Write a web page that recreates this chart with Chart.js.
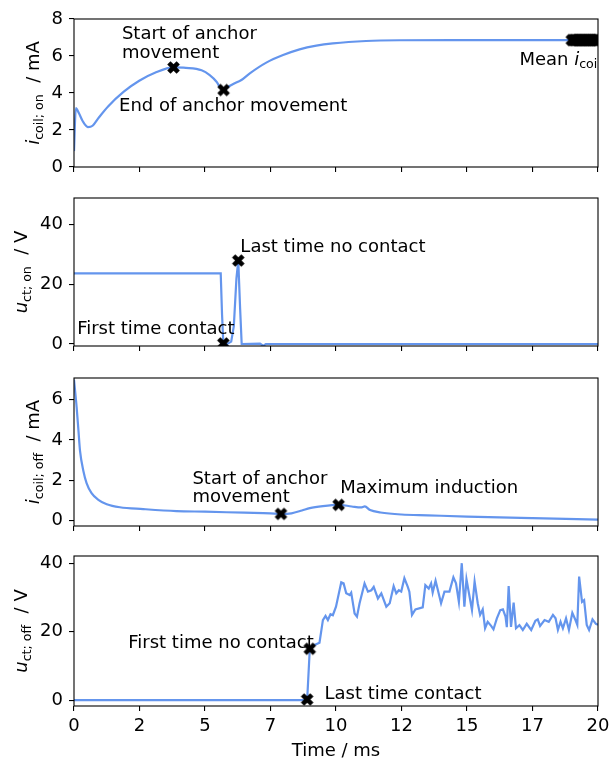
<!DOCTYPE html>
<html>
<head>
<meta charset="utf-8">
<script src="https://cdn.jsdelivr.net/npm/chart.js@4.4.1/dist/chart.umd.min.js"></script>
<style>
  html, body { margin: 0; padding: 0; background: #fff; }
  #wrap { position: relative; width: 609px; height: 759px; }
  canvas { position: absolute; left: 0; }
</style>
</head>
<body>
<div id="wrap">
  <canvas id="c1" width="609" height="180" style="top:0px"></canvas>
  <canvas id="c2" width="609" height="180" style="top:180px"></canvas>
  <canvas id="c3" width="609" height="180" style="top:360px"></canvas>
  <canvas id="c4" width="609" height="219" style="top:540px"></canvas>
</div>
<script>
// === DATA ===
let timeTicks = [0, 2.5, 5, 7.5, 10, 12.5, 15, 17.5, 20];
let timeTickLabels = ["0", "2", "5", "7", "10", "12", "15", "17", "20"];

// coil current, switching on
let iOnTime = [0, 0.07, 0.19, 0.34, 0.53, 0.71, 0.93, 1.3, 1.9, 2.49, 3.09, 3.8, 4.27, 4.87, 5.18, 5.44, 5.56, 5.71, 5.85, 6.01, 6.26, 6.39, 6.71, 7.34, 7.98, 8.61, 9.25, 9.88, 11.15, 12.42, 15, 20];
let iOnValue = [0.86, 3.18, 2.9, 2.46, 2.16, 2.23, 2.64, 3.27, 4.07, 4.66, 5.09, 5.38, 5.36, 5.23, 4.97, 4.61, 4.34, 4.16, 4.3, 4.43, 4.61, 4.7, 5.06, 5.64, 6.05, 6.36, 6.56, 6.68, 6.81, 6.85, 6.86, 6.86];
let iOnMarkTime = [3.8, 5.71];
let iOnMarkValue = [5.38, 4.16];
let iOnMeanTime = [19.0, 19.05, 19.1, 19.15, 19.2, 19.25, 19.3, 19.35, 19.4, 19.45, 19.5, 19.55, 19.6, 19.65, 19.7, 19.75, 19.8, 19.85, 19.9, 19.95, 20.0];
let iOnMeanValue = 6.86;
let iOnTicks = [0, 2, 4, 6, 8];

// contact voltage, switching on
let uOnTime = [0, 5.6, 5.65, 5.7, 5.78, 6.0, 6.1, 6.2, 6.27, 6.34, 6.4, 7.1, 7.22, 7.32, 20];
let uOnValue = [23.7, 23.7, 10, 0.2, -0.3, 0.8, 6, 22, 28, 12, 0, 0.1, -0.6, 0, 0];
let uOnMarkTime = [5.7, 6.27];
let uOnMarkValue = [0.2, 28];
let uOnTicks = [0, 20, 40];

// coil current, switching off
let iOffTime = [0, 0.1, 0.17, 0.23, 0.36, 0.48, 0.67, 0.93, 1.25, 1.75, 2.64, 3.91, 5, 6.5, 7.5, 7.9, 8.3, 8.7, 9.0, 9.5, 10.1, 10.6, 10.95, 11.1, 11.3, 11.7, 12.5, 13.5, 15, 17.5, 20];
let iOffValue = [7.0, 5.64, 4.47, 3.46, 2.45, 1.86, 1.36, 1.03, 0.81, 0.66, 0.57, 0.47, 0.44, 0.39, 0.36, 0.33, 0.36, 0.5, 0.62, 0.72, 0.78, 0.7, 0.65, 0.7, 0.52, 0.4, 0.3, 0.26, 0.2, 0.12, 0.05];
let iOffMarkTime = [7.9, 10.1];
let iOffMarkValue = [0.33, 0.78];
let iOffTicks = [0, 2, 4, 6];

// contact voltage, switching off
let uOffTime = [0, 8.88, 8.9, 9.0, 9.03, 9.18, 9.37, 9.5, 9.6, 9.69, 9.79, 9.88, 10.0, 10.2, 10.29, 10.39, 10.52, 10.58, 10.71, 10.8, 10.9, 11.09, 11.22, 11.35, 11.44, 11.6, 11.73, 11.92, 12.05, 12.2, 12.3, 12.4, 12.49, 12.61, 12.74, 12.8, 12.9, 13.03, 13.31, 13.41, 13.54, 13.63, 13.69, 13.8, 13.89, 14.01, 14.14, 14.33, 14.48, 14.58, 14.69, 14.8, 14.9, 14.98, 15.08, 15.19, 15.29, 15.41, 15.5, 15.6, 15.69, 15.79, 15.92, 16.01, 16.14, 16.27, 16.37, 16.47, 16.52, 16.59, 16.68, 16.78, 16.87, 17.0, 17.13, 17.28, 17.45, 17.61, 17.7, 17.79, 17.96, 18.12, 18.28, 18.38, 18.47, 18.57, 18.66, 18.78, 18.89, 19.02, 19.14, 19.21, 19.28, 19.39, 19.47, 19.57, 19.66, 19.79, 19.92, 20];
let uOffValue = [0, 0, 0.2, 15, 15.3, 16.1, 16.8, 23.4, 24.6, 23.4, 25.1, 24.8, 27.3, 34.4, 34.1, 31.2, 30.7, 31.4, 25.3, 24.4, 28.3, 34.1, 31.7, 32.1, 33.1, 29.7, 31.2, 27.3, 28.3, 33.3, 31.2, 32.1, 31.7, 35.6, 33.1, 31.7, 24.9, 26.5, 27.1, 33.6, 32.6, 34.1, 31.4, 34.9, 32.1, 28.3, 31.7, 31.7, 35.9, 34.1, 28.7, 40, 27.3, 35.3, 31.0, 26.3, 34.6, 28.3, 24.9, 26.5, 21.0, 22.9, 21.7, 20.7, 23.9, 26.3, 26.5, 24.4, 21.3, 33.3, 21.4, 28.5, 21.0, 21.9, 20.5, 22.3, 20.5, 23.2, 23.6, 21.7, 23.4, 22.9, 24.9, 23.9, 20.5, 22.9, 21.0, 23.9, 20.5, 25.5, 23.4, 22.0, 36.1, 28.7, 29.2, 22.0, 20.5, 23.6, 22.3, 22.0];
let uOffMarkTime = [8.9, 9.0];
let uOffMarkValue = [0.2, 15];
let uOffTicks = [0, 20, 40];

// === STYLE ===
const FONT = '"DejaVu Sans", sans-serif';
const FS = 18;
const LINE_COLOR = "#6495ED";

// filled "X" marker like matplotlib
function makeXMarker() {
  let c = document.createElement("canvas");
  c.width = 15; c.height = 15;
  let g = c.getContext("2d");
  let r = 6.6, w = 2.3;
  let pts = [[-w, -r], [w, -r], [w, -w], [r, -w], [r, w], [w, w], [w, r], [-w, r], [-w, w], [-r, w], [-r, -w], [-w, -w]];
  let a = Math.PI / 4;
  g.beginPath();
  pts.forEach((p, i) => {
    let x = 7.5 + p[0] * Math.cos(a) - p[1] * Math.sin(a);
    let y = 7.5 + p[0] * Math.sin(a) + p[1] * Math.cos(a);
    if (i === 0) g.moveTo(x, y); else g.lineTo(x, y);
  });
  g.closePath();
  g.fillStyle = "#000";
  g.fill();
  return c;
}
let xMarker = makeXMarker();

function toPoints(ts, vs) {
  return ts.map((t, i) => ({ x: t, y: vs[i] }));
}

// draw text made of parts (italic / subscript)
function richWidth(ctx, parts, size) {
  let w = 0;
  parts.forEach(p => {
    ctx.font = (p.italic ? "italic " : "") + (p.sub ? size * 0.7 : size) + "px " + FONT;
    w += ctx.measureText(p.text).width;
  });
  return w;
}
function drawRich(ctx, x, y, parts, size) {
  parts.forEach(p => {
    ctx.font = (p.italic ? "italic " : "") + (p.sub ? size * 0.7 : size) + "px " + FONT;
    ctx.fillText(p.text, x, y + (p.sub ? size * 0.22 : 0));
    x += ctx.measureText(p.text).width;
  });
}

// === PANEL ===
function makePanel(id, cfg) {
  let datasets = [
    {
      data: cfg.marks,
      showLine: false,
      pointStyle: xMarker,
      pointRadius: 7,
      clip: 0,
      order: 0
    },
    {
      data: cfg.line,
      borderColor: LINE_COLOR,
      borderWidth: 2.2,
      pointRadius: 0,
      tension: 0,
      cubicInterpolationMode: cfg.smooth ? "monotone" : "default",
      fill: false,
      order: 1
    }
  ];

  let deco = {
    id: "deco",
    afterDraw(chart) {
      let ctx = chart.ctx, a = chart.chartArea;
      let xs = chart.scales.x, ys = chart.scales.y;
      ctx.save();

      // frame (all four spines)
      ctx.strokeStyle = "#000";
      ctx.lineWidth = 1.1;
      ctx.strokeRect(a.left, a.top, a.right - a.left, a.bottom - a.top);

      // annotations, clipped to the axes
      ctx.save();
      ctx.beginPath();
      ctx.rect(a.left, a.top, a.right - a.left, a.bottom - a.top);
      ctx.clip();
      ctx.fillStyle = "#000";
      ctx.textBaseline = "alphabetic";
      ctx.textAlign = "left";
      cfg.notes.forEach(n => {
        drawRich(ctx, xs.getPixelForValue(n.t), ys.getPixelForValue(n.v), n.parts, FS);
      });
      ctx.restore();

      // y axis label, rotated
      ctx.fillStyle = "#000";
      ctx.textAlign = "left";
      let w = richWidth(ctx, cfg.ylabel, FS);
      ctx.translate(cfg.ylabelX, (a.top + a.bottom) / 2);
      ctx.rotate(-Math.PI / 2);
      drawRich(ctx, -w / 2, 0, cfg.ylabel, FS);
      ctx.restore();

      // x axis title on the last panel
      if (cfg.xtitle) {
        ctx.save();
        ctx.fillStyle = "#000";
        ctx.font = FS + "px " + FONT;
        ctx.textAlign = "center";
        ctx.textBaseline = "alphabetic";
        ctx.fillText(cfg.xtitle, (a.left + a.right) / 2, cfg.xtitleY);
        ctx.restore();
      }
    }
  };

  new Chart(document.getElementById(id), {
    type: "line",
    data: { datasets: datasets },
    options: {
      responsive: false,
      animation: false,
      events: [],
      layout: { padding: { top: cfg.top, right: 11, left: 0, bottom: 0 } },
      plugins: { legend: { display: false }, tooltip: { enabled: false } },
      scales: {
        x: {
          type: "linear",
          min: 0,
          max: 20,
          afterBuildTicks: s => { s.ticks = timeTicks.map(v => ({ value: v })); },
          afterFit: s => {
            s.height = cfg.xHeight;
            s.paddingLeft = 0; s.paddingRight = 0;
          },
          ticks: {
            display: cfg.showX,
            autoSkip: false,
            maxRotation: 0,
            padding: 5,
            color: "#000",
            font: { family: FONT, size: FS },
            callback: (v) => timeTickLabels[timeTicks.indexOf(v)]
          },
          grid: { drawOnChartArea: false, tickLength: 5, color: "#000", lineWidth: 1.1 },
          border: { display: false }
        },
        y: {
          type: "linear",
          min: cfg.ymin,
          max: cfg.ymax,
          afterBuildTicks: s => { s.ticks = cfg.yticks.map(v => ({ value: v })); },
          afterFit: s => {
            s.width = 74;
            s.paddingTop = 0; s.paddingBottom = 0;
          },
          ticks: {
            padding: 6,
            color: "#000",
            font: { family: FONT, size: FS },
            callback: v => String(v)
          },
          grid: { drawOnChartArea: false, tickLength: 5, color: "#000", lineWidth: 1.1 },
          border: { display: false }
        }
      }
    },
    plugins: [deco]
  });
}

// === BUILD PANELS ===
makePanel("c1", {
  top: 19, xHeight: 13, showX: false, smooth: true,
  ymin: 0, ymax: 8, yticks: iOnTicks,
  line: toPoints(iOnTime, iOnValue),
  marks: toPoints(iOnMarkTime, iOnMarkValue).concat(iOnMeanTime.map(t => ({ x: t, y: iOnMeanValue }))),
  ylabelX: 39,
  ylabel: [{ text: "i", italic: true }, { text: "coil; on", sub: true }, { text: "  / mA" }],
  notes: [
    { t: 1.83, v: 6.93, parts: [{ text: "Start of anchor" }] },
    { t: 1.83, v: 5.91, parts: [{ text: "movement" }] },
    { t: 1.72, v: 3.04, parts: [{ text: "End of anchor movement" }] },
    { t: 17.0, v: 5.54, parts: [{ text: "Mean " }, { text: "i", italic: true }, { text: "coil", sub: true }] }
  ]
});

makePanel("c2", {
  top: 18, xHeight: 14, showX: false, smooth: false,
  ymin: -0.67, ymax: 48.97, yticks: uOnTicks,
  line: toPoints(uOnTime, uOnValue),
  marks: toPoints(uOnMarkTime, uOnMarkValue),
  ylabelX: 27,
  ylabel: [{ text: "u", italic: true }, { text: "ct; on", sub: true }, { text: "  / V" }],
  notes: [
    { t: 6.35, v: 31.0, parts: [{ text: "Last time no contact" }] },
    { t: 0.12, v: 3.26, parts: [{ text: "First time contact" }] }
  ]
});

makePanel("c3", {
  top: 18, xHeight: 14, showX: false, smooth: true,
  ymin: -0.27, ymax: 7.08, yticks: iOffTicks,
  line: toPoints(iOffTime, iOffValue),
  marks: toPoints(iOffMarkTime, iOffMarkValue),
  ylabelX: 39,
  ylabel: [{ text: "i", italic: true }, { text: "coil; off", sub: true }, { text: "  / mA" }],
  notes: [
    { t: 4.52, v: 1.84, parts: [{ text: "Start of anchor" }] },
    { t: 4.52, v: 0.93, parts: [{ text: "movement" }] },
    { t: 10.16, v: 1.35, parts: [{ text: "Maximum induction" }] }
  ]
});

makePanel("c4", {
  top: 16, xHeight: 53, showX: true, smooth: false,
  ymin: -1.7, ymax: 42.1, yticks: uOffTicks,
  line: toPoints(uOffTime, uOffValue),
  marks: toPoints(uOffMarkTime, uOffMarkValue),
  ylabelX: 27,
  ylabel: [{ text: "u", italic: true }, { text: "ct; off", sub: true }, { text: "  / V" }],
  xtitle: "Time / ms",
  xtitleY: 216,
  notes: [
    { t: 2.07, v: 15.1, parts: [{ text: "First time no contact" }] },
    { t: 9.56, v: 0.2, parts: [{ text: "Last time contact" }] }
  ]
});
</script>
</body>
</html>
